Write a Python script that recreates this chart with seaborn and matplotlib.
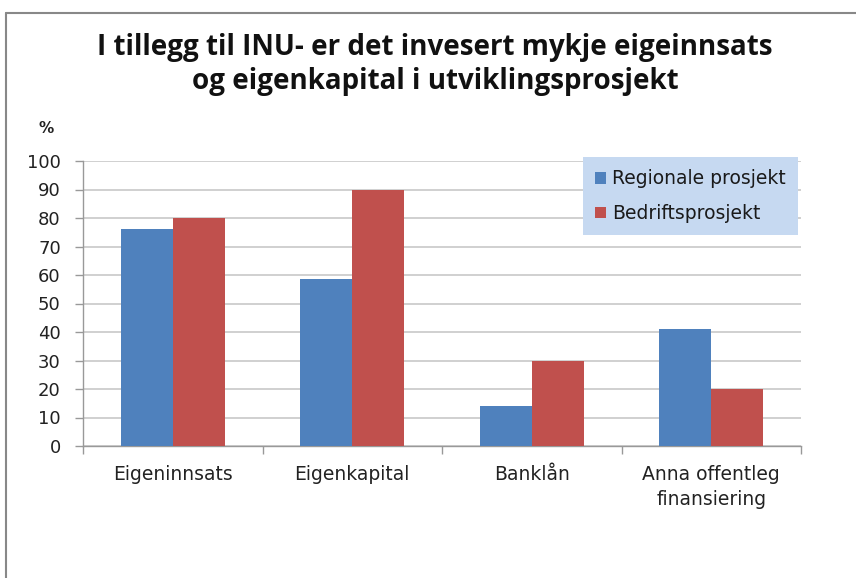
import matplotlib
matplotlib.use("Agg")
import matplotlib.pyplot as plt
import seaborn as sns
import pandas as pd
from matplotlib.patches import Patch
from matplotlib.lines import Line2D

categories = ["Eigeninnsats", "Eigenkapital", "Banklån", "Anna offentleg\nfinansiering"]
series_names = ["Regionale prosjekt", "Bedriftsprosjekt"]
regionale = [76, 58.5, 14, 41]
bedrift = [80, 90, 30, 20]
yticks = list(range(0, 101, 10))

colors = ["#4f81bd", "#c0504d"]

df = pd.DataFrame({
    "kategori": categories * 2,
    "serie": [series_names[0]] * 4 + [series_names[1]] * 4,
    "verdi": regionale + bedrift,
})

sns.set_theme(style="white")
plt.rcParams["font.family"] = ["DejaVu Sans"]

fig = plt.figure(figsize=(8.56, 5.78), dpi=100)
ax = fig.add_axes([83/856, 1-446/578, (801-83)/856, (446-161)/578])

sns.barplot(data=df, x="kategori", y="verdi", hue="serie", palette=colors,
            order=categories, hue_order=series_names, width=0.58,
            saturation=1, ax=ax, legend=False, zorder=3, linewidth=0)

ax.set_ylim(0, 100)
ax.set_xlim(-0.5, 3.5)
ax.set_yticks(yticks)
ax.set_yticklabels([str(t) for t in yticks], fontsize=13, color="#222222")
ax.yaxis.grid(True, color="#c8c8c8", linewidth=1.2, zorder=0)
ax.set_axisbelow(True)
ax.set_xlabel("")
ax.set_ylabel("")
ax.tick_params(axis="x", length=0, pad=14, labelsize=13.5, labelcolor="#222222")
ax.tick_params(axis="y", length=6, width=1, color="#999999", direction="out", left=True, pad=10)
ax.set_xticks(range(len(categories)))
for lbl in ax.get_xticklabels():
    lbl.set_linespacing(1.35)
ax.set_xticks([-0.5, 0.5, 1.5, 2.5, 3.5], minor=True)
ax.tick_params(axis="x", which="minor", length=6, width=1, color="#999999", direction="out", bottom=True)
for s in ["top", "right"]:
    ax.spines[s].set_visible(False)
for s in ["left", "bottom"]:
    ax.spines[s].set_color("#999999")
    ax.spines[s].set_linewidth(1)

handles = [Patch(facecolor=c, edgecolor="none") for c in colors]
leg = ax.legend(handles, series_names, loc="upper left",
                bbox_to_anchor=((583-83)/718, (446-157)/285),
                fontsize=13.5, frameon=True, fancybox=False,
                handlelength=0.6, handleheight=0.6, handletextpad=0.3,
                labelspacing=0.85, borderpad=0.65, borderaxespad=0)
leg.get_frame().set_facecolor("#c6d9f1")
leg.get_frame().set_edgecolor("none")
leg.get_frame().set_alpha(1)
for t in leg.get_texts():
    t.set_color("#1a1a1a")

fig.text(0.508, 1-48/578, "I tillegg til INU- er det invesert mykje eigeinnsats",
         ha="center", va="center", fontsize=20, fontweight="bold", color="#111111",
         family=["Open Sans", "DejaVu Sans"])
fig.text(0.508, 1-82/578, "og eigenkapital i utviklingsprosjekt",
         ha="center", va="center", fontsize=20, fontweight="bold", color="#111111",
         family=["Open Sans", "DejaVu Sans"])
fig.text(46/856, 1-128/578, "%", ha="center", va="center", fontsize=11,
         fontweight="bold", color="#222222")

# outer frame (left and top borders)
fig.add_artist(Line2D([6/856, 6/856], [0, 1-13/578], transform=fig.transFigure,
                      color="#888888", linewidth=1.5))
fig.add_artist(Line2D([6/856, 1], [1-13/578, 1-13/578], transform=fig.transFigure,
                      color="#888888", linewidth=1.5))

fig.savefig("out.png", dpi=100)
